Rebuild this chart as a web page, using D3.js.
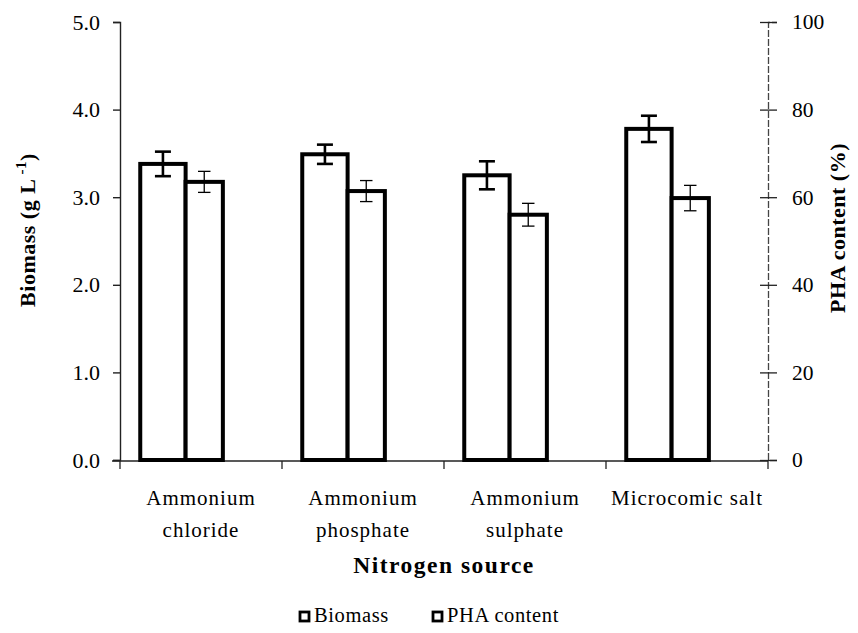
<!DOCTYPE html>
<html>
<head>
<meta charset="utf-8">
<script src="https://cdn.jsdelivr.net/npm/d3@7/dist/d3.min.js"></script>
<style>
  html, body { margin: 0; padding: 0; background: #fff; }
  svg text { font-family: "Liberation Serif", "Times New Roman", serif; fill: #000; }
</style>
</head>
<body>
<svg id="chart" width="858" height="633"></svg>
<script>
// Nitrogen sources tested
const categories = ["Ammonium chloride", "Ammonium phosphate", "Ammonium sulphate", "Microcomic salt"];
// Category labels split over two lines
const categoryLines = [["Ammonium", "chloride"], ["Ammonium", "phosphate"], ["Ammonium", "sulphate"], ["Microcomic salt"]];
// Biomass (g/L) and its error
const biomass = [3.38, 3.49, 3.25, 3.78];
const biomassErr = [0.14, 0.11, 0.16, 0.15];
// PHA content (%) and its error
const phaContent = [63.5, 61.4, 56.0, 59.8];
const phaErr = [2.4, 2.4, 2.6, 2.9];
// Axis ticks
const leftTicks = [0, 1, 2, 3, 4, 5];
const rightTicks = [0, 20, 40, 60, 80, 100];
const seriesNames = ["Biomass", "PHA content"];

const svg = d3.select("#chart");
const plotLeft = 120, plotRight = 768, plotTop = 22, plotBottom = 460;

const x = d3.scaleBand().domain(categories).range([plotLeft, plotRight]).padding(0);
const yL = d3.scaleLinear().domain([0, 5]).range([plotBottom, plotTop]);
const yR = d3.scaleLinear().domain([0, 100]).range([plotBottom, plotTop]);

const bw = x.bandwidth();
// bar geometry inside each band
const bioX0 = c => x(c) + bw * 0.125;
const bioW = bw * 0.28;
const phaX0 = c => bioX0(c) + bioW;
const phaW = bw * 0.23;

// Left axis
const gL = svg.append("g").attr("transform", `translate(${plotLeft},0)`);
gL.call(d3.axisLeft(yL).tickValues(leftTicks).tickFormat(d3.format(".1f")).tickSize(7).tickPadding(13));
gL.select(".domain").attr("stroke", "#222").attr("stroke-width", 1.4);
gL.selectAll(".tick line").attr("stroke", "#222").attr("stroke-width", 1.4);
gL.selectAll(".tick text").attr("font-size", 22).attr("font-family", "Liberation Serif");

// Right axis (ticks cross the line)
const gR = svg.append("g").attr("transform", `translate(${plotRight},0)`);
gR.call(d3.axisRight(yR).tickValues(rightTicks).tickSize(9).tickPadding(15));
gR.select(".domain").attr("stroke", "#444").attr("stroke-width", 1.3).attr("stroke-dasharray", "7,2");
gR.selectAll(".tick line").attr("x1", -8).attr("stroke", "#222").attr("stroke-width", 1.3);
gR.selectAll(".tick text").attr("font-size", 21.5).attr("font-family", "Liberation Serif");

// Category axis
const gX = svg.append("g").attr("transform", `translate(0,${plotBottom + 1})`);
gX.append("line").attr("x1", plotLeft - 8).attr("x2", plotRight).attr("y1", 0).attr("y2", 0)
  .attr("stroke", "#222").attr("stroke-width", 1.4);
gX.selectAll("line.sep").data(categories.concat([null])).join("line").attr("class", "sep")
  .attr("x1", (d, i) => i < categories.length ? x(d) : plotRight)
  .attr("x2", (d, i) => i < categories.length ? x(d) : plotRight)
  .attr("y1", 0).attr("y2", 8).attr("stroke", "#222").attr("stroke-width", 1.3);
const lbl = gX.selectAll("text.cat").data(categories).join("text").attr("class", "cat")
  .attr("text-anchor", "middle").attr("font-size", 21).attr("letter-spacing", 1.0)
  .attr("x", d => x(d) + bw / 2);
lbl.each(function(d, i) {
  const t = d3.select(this);
  categoryLines[i].forEach((s, k) => {
    t.append("tspan").attr("x", x(d) + bw / 2).attr("y", 44 + k * 32).text(s);
  });
});

// Bars
const groups = svg.append("g").selectAll("g").data(categories).join("g");
groups.append("rect")
  .attr("x", d => bioX0(d)).attr("width", bioW)
  .attr("y", (d, i) => yL(biomass[i])).attr("height", (d, i) => plotBottom - yL(biomass[i]))
  .attr("fill", "#fff").attr("stroke", "#000").attr("stroke-width", 4);
groups.append("rect")
  .attr("x", d => phaX0(d)).attr("width", phaW)
  .attr("y", (d, i) => yR(phaContent[i])).attr("height", (d, i) => plotBottom - yR(phaContent[i]))
  .attr("fill", "#fff").attr("stroke", "#000").attr("stroke-width", 4);

// Error bars
function errorBar(g, cx, yTop, yBot, cap, sw) {
  g.append("line").attr("x1", cx).attr("x2", cx).attr("y1", yTop).attr("y2", yBot)
    .attr("stroke", "#000").attr("stroke-width", sw);
  [yTop, yBot].forEach(yy => g.append("line").attr("x1", cx - cap / 2).attr("x2", cx + cap / 2)
    .attr("y1", yy).attr("y2", yy).attr("stroke", "#000").attr("stroke-width", sw));
}
groups.each(function(d, i) {
  const g = d3.select(this);
  errorBar(g, bioX0(d) + bioW / 2, yL(biomass[i] + biomassErr[i]), yL(biomass[i] - biomassErr[i]), 16, 2.6);
  errorBar(g, phaX0(d) + phaW / 2, yR(phaContent[i] + phaErr[i]), yR(phaContent[i] - phaErr[i]), 12.5, 1.3);
});

// Axis titles
svg.append("text").attr("font-weight", "bold").attr("font-size", 22).attr("letter-spacing", 0.5)
  .attr("text-anchor", "middle").attr("transform", "translate(35,230) rotate(-90)")
  .call(t => {
    t.append("tspan").text("Biomass (g L");
    t.append("tspan").attr("font-size", 15).attr("dy", -9).text(" -1");
    t.append("tspan").attr("dy", 9).text(")");
  });
svg.append("text").attr("font-weight", "bold").attr("font-size", 22).attr("letter-spacing", 0.5)
  .attr("text-anchor", "middle").attr("transform", "translate(845,228) rotate(-90)")
  .text("PHA content (%)");
svg.append("text").attr("font-weight", "bold").attr("font-size", 23.5).attr("letter-spacing", 1.5)
  .attr("text-anchor", "middle").attr("x", (plotLeft + plotRight) / 2).attr("y", 573)
  .text("Nitrogen source");

// Legend
const legX = [300, 433];
const leg = svg.append("g").selectAll("g").data(seriesNames).join("g")
  .attr("transform", (d, i) => `translate(${legX[i]},612)`);
leg.append("rect").attr("x", 0).attr("y", 0).attr("width", 9).attr("height", 9)
  .attr("fill", "#fff").attr("stroke", "#000").attr("stroke-width", 2.8);
leg.append("text").attr("x", 14).attr("y", 10).attr("font-size", 20.5).attr("letter-spacing", 0.6)
  .text(d => d);
</script>
</body>
</html>
